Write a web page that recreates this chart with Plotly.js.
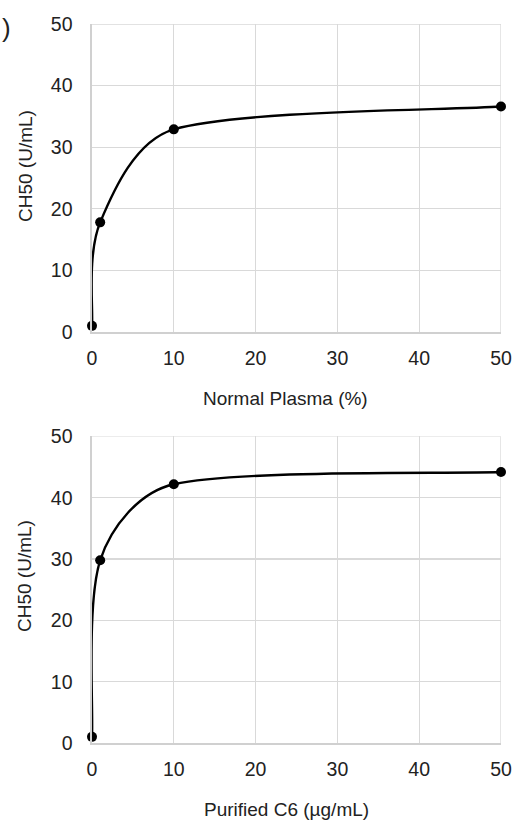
<!DOCTYPE html>
<html>
<head>
<meta charset="utf-8">
<script src="https://cdn.plot.ly/plotly-3.0.1.min.js"></script>
<style>html,body{margin:0;padding:0;background:#fff}#chart{width:518px;height:823px}</style>
</head>
<body>
<div id="chart"></div>
<script>
const plasmaX = [0, 1, 10, 50];
const plasmaCH50 = [1.0, 17.8, 32.9, 36.6];
const c6X = [0, 1, 10, 50];
const c6CH50 = [1.0, 29.8, 42.2, 44.2];
const xTicks = [0, 10, 20, 30, 40, 50];
const yTicks = [0, 10, 20, 30, 40, 50];
const xTitleTop = 'Normal Plasma (%)';
const xTitleBottom = 'Purified C6 (µg/mL)';
const yTitle = 'CH50 (U/mL)';
const panelMark = ')';

const FAM = 'Liberation Sans, Arial, sans-serif';
const TXT = '#222222';
const tickFont = {family: FAM, size: 19.5, color: TXT};
const titleFont = {family: FAM, size: 19, color: TXT};
const markerStyle = {color: '#000', size: 10};
const GRID = '#d9d9d9';
const W = 518, H = 823, M = {l: 92, r: 17, t: 24, b: 80};
const domTop = [0.5716, 1], domBot = [0, 0.4264];
const XR = [0, 50], YR = [0, 50];

// Smoothed line (Excel-like): cubic Bezier through the data points, tangent
// from neighbours (tension 1/6), shortened where adjacent segments are short.
// Lengths are measured in screen proportions; path is in data coordinates.
function smoothPath(xs, ys, kx, ky) {
  const n = xs.length;
  const dist = (i, j) => Math.hypot((xs[j] - xs[i]) * kx, (ys[j] - ys[i]) * ky);
  function ctrl(i, side) {
    const a = Math.max(i - 1, 0), b = Math.min(i + 1, n - 1);
    const tx = xs[b] - xs[a], ty = ys[b] - ys[a];
    const tl = Math.hypot(tx * kx, ty * ky);
    const seg = side > 0 ? dist(i, b) : dist(a, i);
    let f = 1 / 6;
    if (tl > 0 && tl * f > seg / 3) f = (seg / 3) / tl;
    return [xs[i] + side * f * tx, ys[i] + side * f * ty];
  }
  let d = 'M' + xs[0] + ',' + ys[0];
  for (let i = 0; i < n - 1; i++) {
    const c1 = ctrl(i, 1), c2 = ctrl(i + 1, -1);
    d += ' C' + c1[0] + ',' + c1[1] + ' ' + c2[0] + ',' + c2[1] + ' ' + xs[i + 1] + ',' + ys[i + 1];
  }
  return d;
}

const plotW = W - M.l - M.r, plotH = H - M.t - M.b;
const kx = plotW / (XR[1] - XR[0]);
const kyTop = plotH * (domTop[1] - domTop[0]) / (YR[1] - YR[0]);
const kyBot = plotH * (domBot[1] - domBot[0]) / (YR[1] - YR[0]);

const traces = [
  {x: plasmaX, y: plasmaCH50, xaxis: 'x', yaxis: 'y', mode: 'markers', marker: markerStyle, cliponaxis: false, showlegend: false, name: 'Normal Plasma'},
  {x: c6X, y: c6CH50, xaxis: 'x2', yaxis: 'y2', mode: 'markers', marker: markerStyle, cliponaxis: false, showlegend: false, name: 'Purified C6'}
];

function xAxis(anchor) {
  return {
    anchor: anchor, range: XR, tickvals: xTicks, ticktext: xTicks.map(String),
    showgrid: true, gridcolor: GRID, gridwidth: 1.3,
    showline: true, linecolor: '#d0d0d0', linewidth: 1.6, zeroline: false,
    ticks: '', ticklabelstandoff: 8, tickfont: tickFont
  };
}
function yAxis(anchor, domain) {
  return {
    anchor: anchor, domain: domain, range: YR, tickvals: yTicks, ticktext: yTicks.map(String),
    showgrid: true, gridcolor: GRID, gridwidth: 1.3,
    showline: true, linecolor: '#d0d0d0', linewidth: 1.6, zeroline: false,
    ticks: '', ticklabelstandoff: 14, tickfont: tickFont
  };
}

function frame(xr, yr) {
  return [
    {type: 'line', xref: xr, yref: yr, x0: XR[0], x1: XR[1], y0: YR[1], y1: YR[1], line: {color: GRID, width: 1.3}, layer: 'below'},
    {type: 'line', xref: xr, yref: yr, x0: XR[1], x1: XR[1], y0: YR[0], y1: YR[1], line: {color: GRID, width: 1.3}, layer: 'below'}
  ];
}

const layout = {
  width: W, height: H,
  margin: M,
  paper_bgcolor: '#fff', plot_bgcolor: '#fff',
  font: tickFont,
  xaxis: xAxis('y'),
  yaxis: yAxis('x', domTop),
  xaxis2: xAxis('y2'),
  yaxis2: yAxis('x2', domBot),
  shapes: [
    ...frame('x', 'y'), ...frame('x2', 'y2'),
    {type: 'path', xref: 'x', yref: 'y', path: smoothPath(plasmaX, plasmaCH50, kx, kyTop), line: {color: '#000', width: 2.4}, layer: 'above'},
    {type: 'path', xref: 'x2', yref: 'y2', path: smoothPath(c6X, c6CH50, kx, kyBot), line: {color: '#000', width: 2.4}, layer: 'above'}
  ],
  annotations: [
    {text: xTitleTop, xref: 'paper', yref: 'paper', x: 0.472, y: 0.4798, xanchor: 'center', yanchor: 'middle', showarrow: false, font: titleFont},
    {text: xTitleBottom, xref: 'paper', yref: 'paper', x: 0.4756, y: -0.0918, xanchor: 'center', yanchor: 'middle', showarrow: false, font: titleFont},
    {text: yTitle, xref: 'paper', yref: 'paper', x: -0.1638, y: 0.8025, xanchor: 'center', yanchor: 'middle', textangle: -90, showarrow: false, font: titleFont},
    {text: yTitle, xref: 'paper', yref: 'paper', x: -0.1638, y: 0.2323, xanchor: 'center', yanchor: 'middle', textangle: -90, showarrow: false, font: titleFont},
    {text: panelMark, xref: 'paper', yref: 'paper', x: -0.2091, y: 0.994, xanchor: 'center', yanchor: 'middle', showarrow: false, font: {family: FAM, size: 26, color: TXT}}
  ]
};

Plotly.newPlot('chart', traces, layout, {displayModeBar: false, staticPlot: true});
</script>
</body>
</html>
